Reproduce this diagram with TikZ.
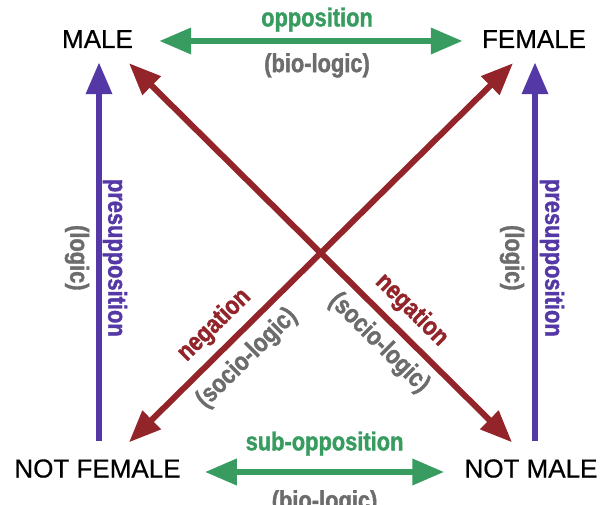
\documentclass[tikz,border=0pt]{standalone}
\usepackage{fontspec}
\setmainfont[FakeBold=0.6]{Liberation Sans}
\newfontfamily\condfont[FakeStretch=0.84, BoldFeatures={FakeBold=1.4}]{Liberation Sans}
\usetikzlibrary{arrows.meta}

\definecolor{oppgreen}{RGB}{56,156,96}
\definecolor{negred}{RGB}{146,36,42}
\definecolor{prepurple}{RGB}{84,56,166}
\definecolor{loggray}{RGB}{108,108,108}

\tikzset{
  word/.style={font=\fontsize{26}{26}\selectfont, inner sep=0pt, text height=18pt, text depth=0pt},
  lab/.style={font=\condfont\bfseries\fontsize{26}{26}\selectfont, inner sep=0pt},
  tip/.style={-{Triangle[length=32pt,width=25pt]}},
  twotip/.style={{Triangle[length=32pt,width=25pt]}-{Triangle[length=32pt,width=25pt]}},
}

\begin{document}
\begin{tikzpicture}[x=1pt,y=1pt]
    \useasboundingbox (0,0) rectangle (603,504);
    \node[word] (m) at (97.5,465) {MALE};
    \node[word] (f) at (534,465) {FEMALE};
    \node[word] (nf) at (97.5,35.5) {NOT FEMALE};
    \node[word] (nm) at (531,35.5) {NOT MALE};
    % top and bottom
    \draw[twotip, oppgreen, line width=6.5pt] ([shift={(26,-2)}]m.east) -- ([shift={(-19,-2)}]f.west)
      node[lab, pos=.52, above=6pt] {opposition}
      node[lab, loggray, pos=.52, below=9pt] {(bio-logic)};
    \draw[twotip, oppgreen, line width=6.5pt] ([shift={(24,-3.5)}]nf.east) -- ([shift={(-20,-3.5)}]nm.west)
      node[lab, pos=.5, above=13pt] {sub-opposition}
      node[lab, loggray, pos=.5, below=15pt] {(bio-logic)};
    % sides
    \draw[tip, prepurple, line width=6.5pt] ([shift={(1.5,18)}]nf.north) -- ([shift={(1.5,-14)}]m.south)
      node[lab, pos=.484, xshift=16pt, rotate=-90] {presupposition}
      node[lab, loggray, pos=.484, xshift=-22pt, rotate=-90] {(logic)};
    \draw[tip, prepurple, line width=6.5pt] ([shift={(4,18)}]nm.north) -- ([shift={(1,-14)}]f.south)
      node[lab, pos=.484, xshift=17pt, rotate=-90] {presupposition}
      node[lab, loggray, pos=.484, xshift=-23pt, rotate=-90] {(logic)};
    % diagonals
    \draw[twotip, negred, line width=6pt] ([shift={(31.5,17)}]nf.north) -- ([shift={(-21,-15)}]f.south)
      node[lab, sloped, pos=.265, above=8pt] {negation}
      node[lab, loggray, sloped, pos=.265, below=8pt] {(socio-logic)};
    \draw[twotip, negred, line width=6pt] ([shift={(31.5,-15)}]m.south) -- ([shift={(-19,17)}]nm.north)
      node[lab, sloped, pos=.695, above=8pt] {negation}
      node[lab, loggray, sloped, pos=.695, below=8pt] {(socio-logic)};
\end{tikzpicture}
\end{document}
